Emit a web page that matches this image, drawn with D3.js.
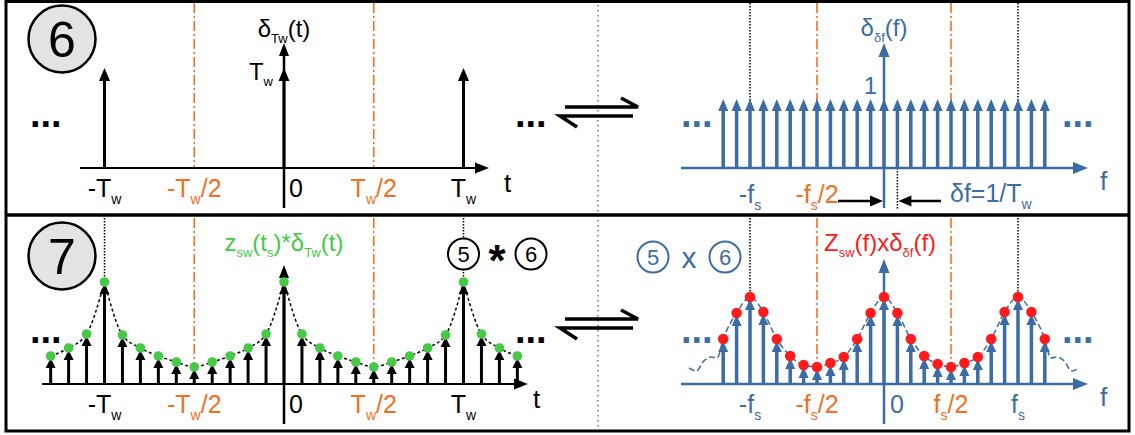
<!DOCTYPE html>
<html><head><meta charset="utf-8">
<script src="https://cdn.jsdelivr.net/npm/d3@7"></script>
<style>html,body{margin:0;padding:0;background:#fff;} svg{display:block;font-family:"Liberation Sans",Arial,sans-serif;}</style>
</head><body><svg id="c" width="1135" height="435"></svg>
<script>
// ---------------- data ----------------
// time axis ticks (units of Tw)
const timeTickVals   = [-1, -0.5, 0, 0.5, 1];
const timeTickLabels = ["-T_{w}", "-T_{w}/2", "0", "T_{w}/2", "T_{w}"];
// frequency axis ticks (units of fs)
const freqTickVals   = [-1, -0.5, 0, 0.5, 1];
const freqTickLabels = ["-f_{s}", "-f_{s}/2", "0", "f_{s}/2", "f_{s}"];
const halfTicks = [-0.5, 0.5];
const fullTicks = [-1, 1];

// panel 6 left: Dirac comb in time (period Tw, weight Tw)
const combTimePos = [-1, 0, 1];
const combTimeVal = [1, 1, 1];

// panel 6 right: Dirac comb in frequency (spacing δf = fs/10, weight 1)
const combFreqPos = [-1.2,-1.1,-1.0,-0.9,-0.8,-0.7,-0.6,-0.5,-0.4,-0.3,-0.2,-0.1,0,0.1,0.2,0.3,0.4,0.5,0.6,0.7,0.8,0.9,1.0,1.1,1.2];
const combFreqVal = [1,1,1,1,1,1,1,1,1,1,1,1,1,1,1,1,1,1,1,1,1,1,1,1,1];

// panel 7 left: periodised samples z_sw(ts)*δTw(t)
const sampTimePos = [-1.3,-1.2,-1.1,-1.0,-0.9,-0.8,-0.7,-0.6,-0.5,-0.4,-0.3,-0.2,-0.1,0,0.1,0.2,0.3,0.4,0.5,0.6,0.7,0.8,0.9,1.0,1.1,1.2,1.3];
const sampTimeVal = [28,36,50,102,49,36,28,22,17,22,28,36,50,102,50,36,28,22,17,22,28,36,49,102,50,36,28];

// panel 7 right: sampled spectrum Z_sw(f)xδδf(f)
const sampFreqPos = [-1.2,-1.1,-1.0,-0.9,-0.8,-0.7,-0.6,-0.5,-0.4,-0.3,-0.2,-0.1,0,0.1,0.2,0.3,0.4,0.5,0.6,0.7,0.8,0.9,1.0,1.1,1.2];
const sampFreqVal = [45,71,87,72,45,28,19,17,21,27,45,71,87,71,45,28,20,17,21,27,45,72,87,72,45];
// continuous spectrum tails beyond the last samples
const tailLeftPos  = [-1.455,-1.40,-1.345,-1.29,-1.245];
const tailLeftVal  = [16,13,23,27,26];
const tailRightPos = [1.245,1.29,1.345,1.40,1.455];
const tailRightVal = [26,27,23,13,16];

// ---------------- drawing ----------------
const BLUE="#3b6ca5", ORANGE="#f36f21", GREEN="#46c946", RED="#ff1b1b", BLACK="#000", GREY="#e3e3e3";
const svg = d3.select("#c");
const OFF = 216; // vertical offset of lower panel
const FS = 25;   // tick label font size

const xL = d3.scaleLinear().domain([-1,1]).range([104.5,463.5]);
const xR = d3.scaleLinear().domain([-1,1]).range([750,1018]);
const yTL = d3.scaleLinear().domain([0,1]).range([168,68]);
const yTR = d3.scaleLinear().domain([0,1]).range([168,99]);
const yBL = d3.scaleLinear().domain([0,100]).range([168+OFF,68+OFF]);
const yBR = d3.scaleLinear().domain([0,100]).range([168+OFF,68+OFF]);

function rich(g, x, y, str, size, color, anchor){
  const t = g.append("text").attr("x",x).attr("y",y).attr("font-size",size)
    .attr("fill",color).attr("text-anchor",anchor||"middle");
  const re=/_\{([^}]*)\}/g; let last=0, m, shifted=false;
  const subSize = Math.round(size*0.56), dy = Math.round(size*0.27);
  while((m=re.exec(str))){
    if(m.index>last){ const s=t.append("tspan").text(str.slice(last,m.index)); if(shifted){s.attr("dy",-dy); shifted=false;} }
    t.append("tspan").attr("font-size",subSize).attr("dy",dy).text(m[1]); shifted=true;
    last=re.lastIndex;
  }
  if(last<str.length){ const s=t.append("tspan").text(str.slice(last)); if(shifted){s.attr("dy",-dy);} }
  return t;
}
function hArrow(g, x0, x1, y, color, w, hl, hw){
  const dir = x1>x0?1:-1;
  g.append("line").attr("x1",x0).attr("x2",x1-dir*(hl-2)).attr("y1",y).attr("y2",y).attr("stroke",color).attr("stroke-width",w);
  g.append("path").attr("d",`M${x1},${y}L${x1-dir*hl},${y-hw/2}L${x1-dir*hl},${y+hw/2}Z`).attr("fill",color);
}
function vArrow(g, x, y0, y1, color, w, hl, hw){
  g.append("line").attr("x1",x).attr("x2",x).attr("y1",y0).attr("y2",y1+hl-2).attr("stroke",color).attr("stroke-width",w);
  g.append("path").attr("d",`M${x},${y1}L${x-hw/2},${y1+hl}L${x+hw/2},${y1+hl}Z`).attr("fill",color);
}
function impulses(g, pos, val, xs, ys, color, w, hl, hw, tipOffset){
  const d = pos.map((p,i)=>({p, v:val[i]}));
  g.selectAll(null).data(d).join("line")
    .attr("x1",e=>xs(e.p)).attr("x2",e=>xs(e.p))
    .attr("y1",ys(0)).attr("y2",e=>ys(e.v)+tipOffset+hl-2)
    .attr("stroke",color).attr("stroke-width",w);
  g.selectAll(null).data(d).join("path")
    .attr("d",e=>{const x=xs(e.p), y=ys(e.v)+tipOffset; return `M${x},${y}L${x-hw/2},${y+hl}L${x+hw/2},${y+hl}Z`;})
    .attr("fill",color);
}
function vlines(g, vals, xs, y0, y1, color, dash, w){
  g.selectAll(null).data(vals).join("line")
    .attr("x1",d=>xs(d)).attr("x2",d=>xs(d)).attr("y1",y0).attr("y2",y1)
    .attr("stroke",color).attr("stroke-width",w).attr("stroke-dasharray",dash);
}
function dots(g, x, y, color){
  g.append("text").attr("x",x).attr("y",y+5).attr("font-size",38).attr("font-weight","bold").attr("fill",color).text("...");
}
function bigCircle(g, cx, cy, label){
  g.append("circle").attr("cx",cx).attr("cy",cy).attr("r",33.5).attr("fill",GREY).attr("stroke",BLACK).attr("stroke-width",2.5);
  g.append("text").attr("x",cx).attr("y",cy+18).attr("text-anchor","middle").attr("font-size",50).text(label);
}
function smallCircle(g, cx, cy, label, color){
  g.append("circle").attr("cx",cx).attr("cy",cy).attr("r",15.5).attr("fill","#fff").attr("stroke",color).attr("stroke-width",2);
  g.append("text").attr("x",cx).attr("y",cy+8).attr("text-anchor","middle").attr("font-size",22).attr("fill",color).text(label);
}
function harpoons(g, y){
  const p = "stroke-width";
  g.append("path").attr("d",`M565,${y}L638,${y}L621,${y-9}`).attr("fill","none").attr("stroke",BLACK).attr(p,3.5);
  g.append("path").attr("d",`M633,${y+9}L560,${y+9}L577,${y+20}`).attr("fill","none").attr("stroke",BLACK).attr(p,3.5);
}

// centre dotted divider
svg.append("line").attr("x1",598).attr("x2",598).attr("y1",0).attr("y2",435)
  .attr("stroke","#777").attr("stroke-width",1.5).attr("stroke-dasharray","1.5,3.5");

// ======== panel 6 (top) ========
const g6 = svg.append("g");
vlines(g6, halfTicks, xL, 3, 168, ORANGE, "10,3,2,3", 1.6);
hArrow(g6, 80, 489, 168, BLACK, 2, 14, 11);
vArrow(g6, 284, 208, 43, BLACK, 2.5, 13, 10);
impulses(g6, combTimePos, combTimeVal, xL, yTL, BLACK, 3, 13, 11, 0);
timeTickVals.forEach((v,i)=>{
  const col = Math.abs(v)===0.5?ORANGE:BLACK;
  if(v===0) rich(g6, xL(v)+5, 197, timeTickLabels[i], FS, col, "start");
  else rich(g6, xL(v), 197, timeTickLabels[i], FS, col, "middle");
});
rich(g6, 504, 192, "t", 26, BLACK, "start");
rich(g6, 284, 37, "δ_{Tw}(t)", 24, BLACK, "middle");
rich(g6, 273, 80, "T_{w}", 24, BLACK, "end");
dots(g6, 30, 122, BLACK); dots(g6, 515, 122, BLACK);
bigCircle(g6, 62, 39, "6");

// right
vlines(g6, fullTicks, xR, 3, 168, BLACK, "1.5,1.5", 1.5);
vlines(g6, halfTicks, xR, 3, 168, ORANGE, "10,3,2,3", 1.6);
vlines(g6, [0.1], xR, 168, 210, BLACK, "1.5,1.5", 1.5);
hArrow(g6, 681, 1088, 168, BLUE, 2.5, 15, 12);
vArrow(g6, xR(0), 208, 43, BLUE, 2.5, 14, 11);
impulses(g6, combFreqPos, combFreqVal, xR, yTR, BLUE, 3.5, 12, 10, 0);
rich(g6, xR(-1), 203, freqTickLabels[0], FS, BLUE, "middle");
rich(g6, xR(-0.5), 203, freqTickLabels[1], FS, ORANGE, "middle");
rich(g6, 950, 202, "δf=1/T_{w}", FS, BLUE, "start");
hArrow(g6, 838, xR(0)-1, 201, BLACK, 2.5, 13, 11);
hArrow(g6, 941, xR(0.1)+1, 201, BLACK, 2.5, 13, 11);
rich(g6, 1100, 190, "f", 26, BLUE, "start");
rich(g6, xR(0), 36, "δ_{δf}(f)", 24, BLUE, "middle");
rich(g6, 877, 94, "1", 24, BLUE, "end");
dots(g6, 681, 122, BLUE); dots(g6, 1062, 122, BLUE);
harpoons(g6, 107);

// ======== panel 7 (bottom) ========
const g7 = svg.append("g");
const yb = 168+OFF;
vlines(g7, fullTicks, xL, 218, yb, BLACK, "1.5,1.5", 1.5);
vlines(g7, halfTicks, xL, 218, yb, ORANGE, "10,3,2,3", 1.6);
hArrow(g7, 42, 528, yb, BLACK, 2, 14, 11);
vArrow(g7, xL(0), 424, 265, BLACK, 2.5, 13, 10);
// envelope (dashed, cusps at the peaks)
const envL = sampTimePos.map((p,i)=>({p, v:sampTimeVal[i]}));
const lineL = d3.line().x(d=>xL(d.p)).y(d=>yBL(d.v)).curve(d3.curveMonotoneX);
const peaksL = [-1.3, -1, 0, 1, 1.3];
for(let j=0;j<peaksL.length-1;j++){
  const seg = envL.filter(d=>d.p>=peaksL[j]-1e-9 && d.p<=peaksL[j+1]+1e-9);
  g7.append("path").attr("d",lineL(seg)).attr("fill","none").attr("stroke",BLACK).attr("stroke-width",1.5).attr("stroke-dasharray","3,2.5");
}
impulses(g7, sampTimePos, sampTimeVal, xL, yBL, BLACK, 3, 10, 10, 2);
g7.selectAll(null).data(envL).join("circle").attr("cx",d=>xL(d.p)).attr("cy",d=>yBL(d.v)).attr("r",4.8).attr("fill",GREEN);
timeTickVals.forEach((v,i)=>{
  const col = Math.abs(v)===0.5?ORANGE:BLACK;
  if(v===0) rich(g7, xL(v)+5, 197+OFF, timeTickLabels[i], FS, col, "start");
  else rich(g7, xL(v), 197+OFF, timeTickLabels[i], FS, col, "middle");
});
rich(g7, 533, 192+OFF, "t", 26, BLACK, "start");
rich(g7, xL(0), 251, "z_{sw}(t_{s})*δ_{Tw}(t)", 24, GREEN, "middle");
dots(g7, 30, 338, BLACK); dots(g7, 515, 338, BLACK);
bigCircle(g7, 62, 256, "7");
smallCircle(g7, xL(1), 254, "5", BLACK);
g7.append("text").attr("x",497).attr("y",276).attr("text-anchor","middle").attr("font-size",44).attr("font-weight","bold").text("*");
smallCircle(g7, 531, 254, "6", BLACK);

// right
vlines(g7, fullTicks, xR, 218, yb, BLACK, "1.5,1.5", 1.5);
vlines(g7, halfTicks, xR, 218, yb, ORANGE, "10,3,2,3", 1.6);
hArrow(g7, 681, 1088, yb, BLUE, 2.5, 15, 12);
vArrow(g7, xR(0), 424, 259, BLUE, 2.5, 14, 11);
const envR = tailLeftPos.map((p,i)=>({p, v:tailLeftVal[i]}))
  .concat(sampFreqPos.map((p,i)=>({p, v:sampFreqVal[i]})))
  .concat(tailRightPos.map((p,i)=>({p, v:tailRightVal[i]})));
const lineR = d3.line().x(d=>xR(d.p)).y(d=>yBR(d.v)).curve(d3.curveMonotoneX);
g7.append("path").attr("d",lineR(envR)).attr("fill","none").attr("stroke",BLUE).attr("stroke-width",1.5).attr("stroke-dasharray","6,3");
impulses(g7, sampFreqPos, sampFreqVal, xR, yBR, BLUE, 3.5, 11, 10, 2);
g7.selectAll(null).data(sampFreqPos.map((p,i)=>({p, v:sampFreqVal[i]}))).join("circle")
  .attr("cx",d=>xR(d.p)).attr("cy",d=>yBR(d.v)).attr("r",5.3).attr("fill",RED);
freqTickVals.forEach((v,i)=>{
  const col = Math.abs(v)===0.5?ORANGE:BLUE;
  if(v===0) rich(g7, xR(v)+6, 197+OFF, freqTickLabels[i], FS, col, "start");
  else rich(g7, xR(v), 197+OFF, freqTickLabels[i], FS, col, "middle");
});
rich(g7, 1100, 190+OFF, "f", 26, BLUE, "start");
rich(g7, 880, 251, "Z_{sw}(f)xδ_{δf}(f)", 24, RED, "middle");
smallCircle(g7, 653, 257, "5", BLUE);
g7.append("text").attr("x",689).attr("y",268).attr("text-anchor","middle").attr("font-size",30).attr("fill",BLUE).text("x");
smallCircle(g7, 725, 257, "6", BLUE);
dots(g7, 681, 338, BLUE); dots(g7, 1062, 338, BLUE);
harpoons(g7, 319);

// frame
svg.append("rect").attr("x",6).attr("y",1.5).attr("width",1123).attr("height",429.5)
  .attr("fill","none").attr("stroke",BLACK).attr("stroke-width",3);
svg.append("line").attr("x1",6).attr("x2",1129).attr("y1",215).attr("y2",215).attr("stroke",BLACK).attr("stroke-width",3.5);
</script></body></html>
